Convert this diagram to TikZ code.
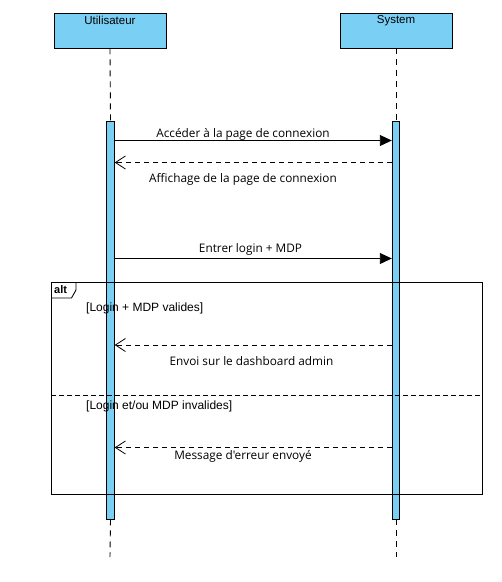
\documentclass[tikz,border=0pt]{standalone}
\usepackage{fontspec}
\setmainfont{Liberation Sans}
\newfontfamily\msgfont{Open Sans}
\usetikzlibrary{arrows.meta}
\definecolor{lifeblue}{RGB}{122,207,245}
\begin{document}
\begin{tikzpicture}[x=1pt,y=-1pt,
  header/.style={draw=black,line width=0.9pt,fill=lifeblue,minimum width=112pt,minimum height=35pt,inner sep=0pt},
  headtext/.style={font=\fontsize{11.5}{13}\selectfont,anchor=north,inner sep=0pt},
  lifeline/.style={draw=black,line width=0.9pt,dash pattern=on 6pt off 5pt},
  actbar/.style={draw=black,line width=0.9pt,fill=lifeblue,minimum width=7.5pt,minimum height=398pt,inner sep=0pt},
  callmsg/.style={draw=black,line width=0.9pt,-{Triangle[length=12pt,width=11pt]}},
  replymsg/.style={draw=black,line width=0.9pt,dash pattern=on 5pt off 4pt,-{Straight Barb[length=10pt,width=13pt,line width=0.8pt]}},
  msglabel/.style={font=\msgfont\fontsize{11.8}{13}\selectfont,inner sep=0pt},
  guard/.style={font=\fontsize{12}{14}\selectfont,anchor=west,inner sep=0pt},
  frameline/.style={draw=black,line width=0.9pt}
]
\useasboundingbox (0,0) rectangle (502,582);

% participants
\node[header] (user) at (110,30.5) {};
\node[headtext] at (user.north) [yshift=-3pt] {Utilisateur};
\node[header] (sys) at (396,30.5) {};
\node[headtext] at (sys.north) [yshift=-3pt] {System};

% lifelines
\coordinate (userend) at (110,557);
\coordinate (sysend) at (396,557);
\node[actbar] (ubar) at (110.5,320) {};
\node[actbar] (sbar) at (396,320) {};
\draw[lifeline] (user.south) -- (ubar.north);
\draw[lifeline] (ubar.south) -- (userend);
\draw[lifeline] (sys.south) -- (sbar.north);
\draw[lifeline] (sbar.south) -- (sysend);

% alt frame
\coordinate (fnw) at (51,282);
\coordinate (fse) at (482,494.5);
\draw[frameline] (fnw) rectangle (fse);
\draw[frameline] (51,298) -- (71.5,298) -- (76,290) -- (76,282);
\node[font=\bfseries\fontsize{11}{13}\selectfont,anchor=west,inner sep=0pt] (altlab) at (54,289.5) {alt};
\draw[line width=0.9pt,dash pattern=on 5pt off 3pt] (51,395) -- (482,395);
\node[guard] (g1) at (86,308) {[Login + MDP valides]};
\node[guard] (g2) at (86,406) {[Login et/ou MDP invalides]};

% messages
\draw[callmsg] (ubar.east |- 0,140.5) -- (sbar.west |- 0,140.5);
\node[msglabel] (m1) at (243,134) {Accéder à la page de connexion};
\draw[replymsg] (sbar.west |- 0,162.5) -- (ubar.east |- 0,162.5);
\node[msglabel] (m2) at (243,179.5) {Affichage de la page de connexion};
\draw[callmsg] (ubar.east |- 0,258.5) -- (sbar.west |- 0,258.5);
\node[msglabel] (m3) at (250.5,249) {Entrer login + MDP};
\draw[replymsg] (sbar.west |- 0,345) -- (ubar.east |- 0,345);
\node[msglabel] (m4) at (251.5,361.5) {Envoi sur le dashboard admin};
\draw[replymsg] (sbar.west |- 0,447.5) -- (ubar.east |- 0,447.5);
\node[msglabel] (m5) at (243,456.5) {Message d'erreur envoyé};
\end{tikzpicture}
\end{document}
